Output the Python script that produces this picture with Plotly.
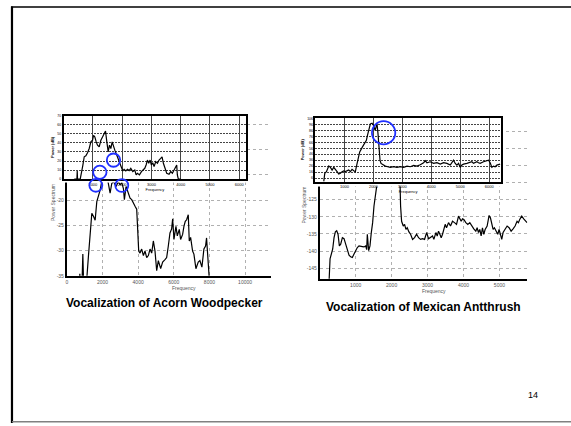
import plotly.graph_objects as go

W, H = 571, 426
FONT = "Liberation Sans, Arial, sans-serif"

# ---------------- data ----------------
# Acorn Woodpecker: power spectrum (bottom-left)
aw_freq = [596, 708, 727, 745, 857, 895, 932, 1119, 1212, 1306, 1399, 1492, 1586, 1679, 1772,
           1866, 1959, 2052, 2239, 2332, 2426, 2519, 2612, 2762, 2892, 2986, 3079, 3173, 3228,
           3322, 3453, 3546, 3639, 3733, 3826, 3919, 3975, 4031, 4106, 4199, 4293, 4386, 4479,
           4573, 4666, 4759, 4853, 4946, 5040, 5133, 5264, 5375, 5506, 5600, 5693, 5786, 5880,
           5936, 6010, 6122, 6197, 6309, 6384, 6496, 6570, 6645, 6720, 6813, 6869, 6944, 7056,
           7130, 7242, 7373, 7466, 7579, 7691, 7784, 7840, 7896, 7990, 8120]
aw_db = [-35.5, -35.5, -34.6, -35.5, -35.5, -30.7, -35.5, -35.5, -31.0, -26.5, -22.6, -23.2, -24.0,
         -20.3, -19.3, -18.0, -16.3, -14.7, -15.0, -16.7, -18.6, -16.7, -16.3, -17.3, -16.3, -17.0,
         -16.5, -17.7, -19.9, -17.3, -18.6, -19.6, -19.9, -20.7, -21.2, -21.8, -25.8, -30.1, -30.5,
         -29.7, -31.0, -30.1, -31.4, -31.0, -29.7, -30.5, -28.1, -30.1, -34.0, -32.0, -33.6, -32.3,
         -31.8, -31.4, -29.1, -26.5, -25.7, -23.7, -27.8, -25.2, -27.1, -25.8, -27.8, -26.8, -25.2,
         -24.2, -23.9, -22.9, -28.1, -27.4, -30.1, -30.7, -33.6, -32.3, -32.0, -33.3, -29.7, -29.1,
         -27.5, -31.0, -35.5, -35.5]

# Acorn Woodpecker: inset spectrum (top-left)
awi_x = [364, 455, 466, 477, 568, 614, 659, 705, 761, 818, 875, 932, 989, 1023, 1068, 1114, 1159,
         1216, 1273, 1330, 1386, 1432, 1477, 1523, 1568, 1614, 1659, 1705, 1750, 1795, 1864, 1932,
         1977, 2023, 2068, 2125, 2182, 2239, 2295, 2364, 2432, 2477, 2523, 2591, 2659, 2727, 2773,
         2818, 2864, 2909, 2955, 3000, 3045, 3091, 3148, 3205, 3261, 3318, 3364, 3409, 3455, 3523,
         3602, 3659, 3716, 3773, 3818, 3864, 3886, 3920, 4000]
awi_y = [0, 0, 9.1, 0, 0, 6.5, 15.6, 24.7, 25.8, 29.1, 33.8, 41.1, 42.9, 48.4, 46.5, 41.1, 37.5,
         35.6, 42.9, 46.5, 50.9, 53.1, 41.1, 30.2, 37.5, 33.8, 41.1, 35.6, 32.0, 28.4, 22.9, 17.5,
         12.0, 9.1, 10.9, 9.1, 10.9, 9.5, 12.0, 8.4, 10.2, 4.7, 6.5, 4.7, 8.4, 10.2, 12.0, 15.6,
         21.1, 17.5, 21.1, 15.6, 18.2, 13.8, 19.3, 17.5, 21.1, 22.9, 24.7, 17.5, 12.0, 6.5, 5.5,
         8.4, 6.5, 10.2, 12.0, 15.6, 4.7, 0, 0]

# Mexican Antthrush: power spectrum (bottom-right)
ma_freq = [213, 259, 287, 324, 361, 398, 435, 472, 509, 546, 583, 630, 676, 722, 769, 815, 861,
           907, 954, 1000, 1046, 1093, 1139, 1185, 1232, 1278, 1306, 1324, 1361, 1398, 1435, 1472,
           1509, 1546, 1583, 1621, 1658, 2158, 2232, 2250, 2278, 2324, 2361, 2398, 2435, 2482,
           2528, 2584, 2639, 2695, 2750, 2806, 2861, 2917, 2973, 3028, 3084, 3139, 3176, 3232,
           3269, 3306, 3343, 3380, 3417, 3454, 3491, 3528, 3584, 3639, 3695, 3750, 3806, 3862,
           3899, 3936, 3973, 4010, 4065, 4121, 4176, 4232, 4287, 4343, 4380, 4417, 4454, 4491,
           4528, 4565, 4602, 4658, 4713, 4750, 4787, 4824, 4861, 4917, 4954, 4991, 5028, 5065,
           5102, 5158, 5214, 5269, 5325, 5380, 5436, 5491, 5528, 5565, 5621, 5676, 5732, 5769]
ma_db = [-149.0, -149.0, -142.3, -140.4, -139.4, -136.1, -134.4, -134.1, -135.1, -138.5, -138.0,
         -136.1, -136.4, -138.0, -139.9, -141.2, -141.7, -141.9, -140.9, -139.9, -139.0, -138.5,
         -138.5, -138.7, -138.8, -138.5, -139.6, -135.1, -139.9, -138.5, -134.6, -131.7, -126.9,
         -123.1, -121.2, -119.2, -116.3, -116.3, -119.2, -126.9, -131.3, -132.7, -132.2, -133.7,
         -133.2, -134.4, -135.1, -136.6, -136.1, -135.1, -136.1, -136.6, -136.4, -136.6, -134.6,
         -136.4, -136.1, -135.6, -136.6, -134.6, -135.6, -134.2, -135.1, -136.1, -135.1, -133.7,
         -132.2, -133.2, -131.7, -132.7, -131.3, -131.7, -132.2, -129.8, -130.6, -131.3, -130.6,
         -130.8, -131.7, -132.2, -131.7, -132.7, -133.5, -134.2, -133.2, -134.6, -133.7, -135.6,
         -133.2, -135.1, -133.7, -132.7, -129.6, -130.3, -132.2, -133.7, -133.2, -134.6, -135.1,
         -133.7, -135.6, -136.6, -134.6, -133.7, -132.7, -133.2, -134.2, -133.5, -132.7, -131.3,
         -131.7, -130.8, -129.8, -130.6, -131.5, -131.7]

# Mexican Antthrush: inset spectrum (top-right)
mai_x = [287, 322, 379, 460, 517, 575, 632, 689, 747, 804, 862, 919, 977, 1034, 1092, 1149, 1206,
         1264, 1321, 1379, 1413, 1459, 1528, 1609, 1689, 1758, 1804, 1850, 1896, 1953, 2011, 2057,
         2080, 2126, 2160, 2195, 2229, 2264, 2333, 2413, 2493, 2585, 2700, 2815, 2930, 3045, 3160,
         3275, 3390, 3504, 3619, 3734, 3792, 3849, 3964, 4079, 4194, 4309, 4424, 4539, 4654, 4711,
         4768, 4826, 4883, 4941, 4998, 5056, 5113, 5228, 5343, 5400, 5458, 5515, 5573, 5630, 5688,
         5802, 5917, 5975, 6032, 6090, 6147, 6205, 6262, 6377]
mai_y = [0, 13.9, 16.7, 26.1, 23.9, 19.4, 23.9, 19.4, 16.7, 12.8, 13.9, 16.7, 17.8, 16.7, 17.8,
         19.4, 16.7, 20.6, 18.3, 16.7, 25.0, 36.1, 50.0, 57.2, 63.9, 69.4, 79.4, 88.9, 97.2, 98.3,
         94.4, 86.1, 91.7, 97.2, 80.6, 58.3, 36.1, 30.6, 27.8, 26.1, 25.0, 23.9, 25.0, 23.9, 25.0,
         23.9, 26.1, 25.0, 27.2, 26.1, 28.3, 31.7, 35.0, 31.7, 33.3, 30.6, 31.7, 29.4, 31.7, 30.6,
         27.8, 33.3, 36.1, 30.6, 27.8, 30.6, 23.9, 27.8, 29.4, 30.6, 31.7, 33.3, 30.6, 31.7, 33.3,
         31.7, 30.6, 33.3, 35.0, 36.1, 31.7, 23.9, 26.1, 25.0, 27.8, 29.4]

aw_xticks = [0, 2000, 4000, 6000, 8000, 10000]
aw_yticks = [-35, -30, -25, -20]            # labelled ticks (visible)
aw_ygrid_hidden = [-15, -10, -5]            # gridlines running under the inset
ma_xticks = [1000, 2000, 3000, 4000, 5000]
ma_yticks = [-145, -140, -135, -130, -125]
ma_ygrid_hidden = [-120, -115, -110, -105]
inset_xticks = [1000, 2000, 3000, 4000, 5000, 6000]

titles = ["Vocalization of Acorn Woodpecker", "Vocalization of Mexican Antthrush"]
page_no = "14"


def px(x):
    return x / W


def py(y):
    return 1 - y / H


fig = go.Figure()

fig.add_trace(go.Scatter(x=aw_freq, y=aw_db, mode="lines", line=dict(color="black", width=1.2),
                         xaxis="x", yaxis="y", hoverinfo="skip"))
fig.add_trace(go.Scatter(x=[0, 1, 1, 0, 0], y=[0, 0, 1, 1, 0], mode="lines", fill="toself",
                         fillcolor="white", line=dict(width=0, color="white"),
                         xaxis="x2", yaxis="y2", hoverinfo="skip"))
fig.add_trace(go.Scatter(x=awi_x, y=awi_y, mode="lines", line=dict(color="black", width=1.2),
                         xaxis="x3", yaxis="y3", hoverinfo="skip"))
fig.add_trace(go.Scatter(x=ma_freq, y=ma_db, mode="lines", line=dict(color="black", width=1.2),
                         xaxis="x4", yaxis="y4", hoverinfo="skip"))
fig.add_trace(go.Scatter(x=[0, 1, 1, 0, 0], y=[0, 0, 1, 1, 0], mode="lines", fill="toself",
                         fillcolor="white", line=dict(width=0, color="white"),
                         xaxis="x5", yaxis="y5", hoverinfo="skip"))
fig.add_trace(go.Scatter(x=mai_x, y=mai_y, mode="lines", line=dict(color="black", width=1.2),
                         xaxis="x6", yaxis="y6", hoverinfo="skip"))

tickf = dict(family=FONT, size=5, color="#555")
spec_ax = dict(showgrid=True, gridcolor="#b0b0b0", griddash="dot", gridwidth=1, zeroline=False,
               showline=True, linecolor="black", linewidth=2, ticks="", tickfont=tickf)
hidden = dict(visible=False, range=[0, 1], fixedrange=True)
inset_x = dict(showgrid=True, gridcolor="#444", gridwidth=1, zeroline=False, showline=True,
               mirror=True, linecolor="black", linewidth=1.5, ticks="",
               tickfont=dict(family=FONT, size=4, color="black"),
               tickvals=inset_xticks, ticktext=[str(v) for v in inset_xticks])
inset_y = dict(showgrid=True, gridcolor="#444", griddash="2px,1px", gridwidth=1, zeroline=False,
               showline=True, mirror=True, linecolor="black", linewidth=1.5, ticks="",
               tickfont=dict(family=FONT, size=3.5, color="black"))
ttl4 = dict(family=FONT, size=4, color="black")

fig.update_layout(
    width=W, height=H, autosize=False, margin=dict(l=0, r=0, t=0, b=0),
    paper_bgcolor="white", plot_bgcolor="rgba(0,0,0,0)", showlegend=False,
    xaxis=dict(spec_ax, domain=[px(66), px(270)], range=[0, 11430], tickvals=aw_xticks,
               ticktext=[str(v) for v in aw_xticks], anchor="y"),
    yaxis=dict(spec_ax, domain=[py(277), py(115)], range=[-35, -3.24], tickvals=aw_yticks,
               ticktext=[str(v) for v in aw_yticks], anchor="x",
               minor=dict(tickvals=aw_ygrid_hidden, showgrid=True, gridcolor="#b0b0b0",
                          griddash="dot", gridwidth=1, ticks="")),
    xaxis2=dict(hidden, domain=[px(44), px(247)], anchor="y2"),
    yaxis2=dict(hidden, domain=[py(183), py(109)], anchor="x2"),
    xaxis3=dict(inset_x, domain=[px(62.7), px(245.7)], range=[0, 6240], anchor="y3",
                title=dict(text="Frequency", font=ttl4, standoff=0)),
    yaxis3=dict(inset_y, domain=[py(179.3), py(115)], range=[0, 70], dtick=10, tick0=0, anchor="x3",
                title=dict(text="<b>Power (dB)</b>", font=ttl4, standoff=3)),
    xaxis4=dict(spec_ax, domain=[px(319.3), px(527.3)], range=[0, 5778], tickvals=ma_xticks,
                ticktext=[str(v) for v in ma_xticks], anchor="y4"),
    yaxis4=dict(spec_ax, domain=[py(280), py(117)], range=[-148.1, -101.0], tickvals=ma_yticks,
                ticktext=[str(v) for v in ma_yticks], anchor="x4",
                minor=dict(tickvals=ma_ygrid_hidden, showgrid=True, gridcolor="#b0b0b0",
                           griddash="dot", gridwidth=1, ticks="")),
    xaxis5=dict(hidden, domain=[px(296), px(502)], anchor="y5"),
    yaxis5=dict(hidden, domain=[py(187), py(110)], anchor="x5"),
    xaxis6=dict(inset_x, domain=[px(315), px(500.7)], range=[0, 6400], anchor="y6",
                title=dict(text="Frequency", font=ttl4, standoff=0)),
    yaxis6=dict(inset_y, domain=[py(181.7), py(117.3)], range=[0, 107.2], tick0=6, dtick=10, anchor="x6",
                title=dict(text="<b>Power (dB)</b>", font=ttl4, standoff=3)),
)

circles = [(112.7, 160, 6.7), (99, 172.3, 6.7), (95, 185.5, 6.5), (121, 185.7, 6.5), (383.3, 132.3, 11.7)]
shapes = []
for cx, cy, r in circles:
    shapes.append(dict(type="circle", xref="paper", yref="paper", x0=px(cx - r), x1=px(cx + r),
                       y0=py(cy + r), y1=py(cy - r), line=dict(color="#1f2fff", width=1.8), layer="above"))
shapes += [
    dict(type="line", xref="paper", yref="paper", x0=px(11), x1=px(11), y0=py(4.5), y1=0,
         line=dict(color="black", width=2.2), layer="above"),
    dict(type="line", xref="paper", yref="paper", x0=px(10), x1=1, y0=py(5), y1=py(5),
         line=dict(color="black", width=1.5), layer="above"),
    dict(type="line", xref="paper", yref="paper", x0=px(11), x1=1, y0=py(424.8), y1=py(424.8),
         line=dict(color="#808080", width=1.5), layer="above"),
]
fig.update_layout(shapes=shapes)

ann = [
    dict(text="<b>" + titles[0] + "</b>", x=px(164), y=py(305), font=dict(family=FONT, size=12, color="black"), textangle=0),
    dict(text="<b>" + titles[1] + "</b>", x=px(423), y=py(309), font=dict(family=FONT, size=12, color="black"), textangle=0),
    dict(text=page_no, x=px(533), y=py(398), font=dict(family=FONT, size=9, color="black"), textangle=0),
    dict(text="Frequency", x=px(183), y=py(289), font=dict(family=FONT, size=5, color="#555"), textangle=0),
    dict(text="Frequency", x=px(434), y=py(292.5), font=dict(family=FONT, size=5, color="#555"), textangle=0),
    dict(text="Power Spectrum", x=px(51.5), y=py(203), font=dict(family=FONT, size=5, color="#555"), textangle=-90),
    dict(text="Power Spectrum", x=px(303.5), y=py(205), font=dict(family=FONT, size=5, color="#555"), textangle=-90),
]
for a in ann:
    a.update(xref="paper", yref="paper", showarrow=False, xanchor="center", yanchor="middle")
fig.update_layout(annotations=ann)

fig.write_html("out.html", config={"displayModeBar": False})
